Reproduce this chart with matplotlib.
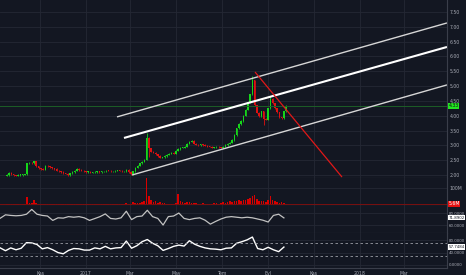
import numpy as np
import matplotlib
matplotlib.use('Agg')
import matplotlib.pyplot as plt

# x values are days counted from 2016-11-01
base = np.datetime64('2016-11-01')

tick_dates = ['2016-11-01', '2017-01-01', '2017-03-01', '2017-05-01', '2017-07-01',
              '2017-09-01', '2017-11-01', '2018-01-01', '2018-03-01']
tick_labels = ['Kas', '2017', 'Mar', 'May', 'Tem', 'Eyl', 'Kas', '2018', 'Mar']

candle_start = -44
candle_step = 3
closes = [2.00, 2.07, 2.03, 1.99, 1.98, 2.00, 2.00, 2.01, 2.03, 2.40,
          2.42, 2.40, 2.46, 2.30, 2.22, 2.20, 2.18, 2.32, 2.30, 2.26,
          2.22, 2.20, 2.15, 2.12, 2.10, 2.06, 2.04, 2.00, 2.06, 2.10,
          2.15, 2.20, 2.17, 2.14, 2.12, 2.10, 2.10, 2.08, 2.09, 2.10,
          2.11, 2.10, 2.12, 2.13, 2.15, 2.14, 2.12, 2.13, 2.14, 2.16,
          2.14, 2.12, 2.13, 2.18, 2.10, 2.02, 2.12, 2.25, 2.32, 2.40,
          2.45, 2.52, 3.25, 2.90, 2.78, 2.75, 2.70, 2.64, 2.58, 2.60,
          2.64, 2.68, 2.72, 2.74, 2.72, 2.82, 2.88, 2.92, 2.92, 2.96,
          3.05, 3.12, 3.15, 3.06, 3.02, 3.00, 3.03, 3.01, 2.99, 2.96,
          2.95, 2.92, 2.94, 2.96, 2.94, 2.92, 2.96, 3.01, 3.06, 3.09,
          3.18, 3.35, 3.58, 3.72, 3.82, 4.00, 4.20, 4.45, 4.72, 5.20,
          4.35, 4.10, 3.98, 4.15, 3.90, 3.86, 4.25, 4.58, 4.42, 4.25,
          4.12, 3.95, 3.92, 4.15, 4.33]
first_open = 1.98
wick_highs = {62: 3.42, 109: 5.35, 117: 4.66, 13: 2.47}
wick_lows = {114: 3.70, 63: 2.62}

volume = [3, 6, 2, 2, 3, 2, 2, 3, 5, 45, 12, 8, 28, 10, 6, 4, 4, 6, 4, 3,
          3, 3, 2, 2, 3, 2, 2, 3, 4, 3, 4, 5, 3, 2, 2, 2, 3, 2, 2, 3,
          2, 3, 2, 3, 4, 3, 2, 3, 3, 4, 3, 2, 3, 8, 5, 4, 14, 12, 10, 12,
          16, 20, 160, 55, 30, 18, 20, 12, 14, 10, 8, 7, 6, 6, 5, 8, 62, 25, 18, 12,
          14, 16, 10, 8, 10, 7, 6, 8, 5, 6, 5, 7, 10, 8, 6, 12, 14, 10, 18, 20,
          16, 22, 25, 28, 20, 30, 26, 35, 42, 55, 58, 35, 25, 22, 20, 18, 30, 52, 28, 20,
          14, 10, 16, 10, 6]
last_volume = 5.6

ind_start = -53
ind_step = 7
osc1 = [71.3, 77, 76, 75.4, 76, 78, 86, 78, 76, 75, 67.7, 72, 71.5, 74, 73, 74, 72,
        67.7, 70.8, 74, 78.5, 71, 70, 72, 83, 69, 74, 75, 84.6, 74, 71, 60, 74, 75,
        80, 71, 69, 71, 72, 68, 61.5, 66, 70, 73, 74, 73, 72, 73, 72, 70, 68, 65, 76,
        78, 71.8902]
osc2 = [55, 46, 55, 49, 54, 72, 71, 66, 52, 56, 49, 40, 36, 47, 53, 52, 48, 48, 55,
        52, 60, 52, 55, 56, 77, 54, 62, 75, 82, 70, 62, 47, 53, 60, 64, 61, 78, 67,
        60, 55, 52, 51, 49, 54, 55, 70, 75, 81, 90, 53, 49, 57, 49, 43, 57.7484]
osc2_bands = [70, 30]

# channel drawings: (day, price) endpoints
channel_upper = [(102.6, 3.96), (542.3, 7.13)]
channel_mid = [(111.9, 3.25), (542.3, 6.32)]
channel_lower = [(122.6, 2.00), (542.3, 5.04)]
trend_red = [(286.5, 5.475), (402.4, 1.93)]

price_ticks = [2.0, 2.5, 3.0, 3.5, 4.0, 4.5, 5.0, 5.5, 6.0, 6.5, 7.0, 7.5]

BG = '#131722'
GRID = '#242834'
SEP = '#3a3e4a'
TXT = '#a9acb6'
GREEN = '#16d61a'
RED = '#e01010'
FS = 3.3
FS_SMALL = 2.9

W, H = 466, 275
fig = plt.figure(figsize=(W / 100, H / 100), dpi=100, facecolor=BG)

def panel(top, bottom):
    ax = fig.add_axes([0, 1 - bottom / H, 447 / W, (bottom - top) / H], facecolor=BG)
    for s in ['top', 'left']:
        ax.spines[s].set_visible(False)
    for s in ['bottom', 'right']:
        ax.spines[s].set_color(SEP)
        ax.spines[s].set_linewidth(0.8)
    ax.yaxis.tick_right()
    ax.tick_params(axis='both', length=0, labelsize=FS, labelcolor=TXT, pad=2)
    ax.set_xlim(-53.3, 542.3)
    ax.set_xticks(tick_x)
    ax.set_xticklabels([])
    ax.grid(True, color=GRID, linewidth=0.6)
    ax.set_axisbelow(True)
    return ax

def value_box(a, y, text, fc, tc, fs=FS):
    a.text(1.003, y, text, transform=a.get_yaxis_transform(), fontsize=fs, color=tc,
           va='center', ha='left', bbox=dict(boxstyle='square,pad=0.15', fc=fc, ec='none'))

tick_x = (np.array(tick_dates, dtype='datetime64[D]') - base).astype(float)

ax = panel(0, 178)
axv = panel(178, 206)
ax1 = panel(206, 233)
ax2 = panel(233, 268)
for a in (ax1, ax2):
    a.tick_params(axis='y', labelsize=FS_SMALL, pad=1.5)

# price candles
xs = candle_start + candle_step * np.arange(len(closes))
opens = [first_open] + closes[:-1]
for i, (x, o, c) in enumerate(zip(xs, opens, closes)):
    col = GREEN if c >= o else RED
    hi = wick_highs.get(i, max(o, c) + 0.02)
    lo = wick_lows.get(i, min(o, c) - 0.02)
    ax.vlines(x, lo, hi, color=col, linewidth=0.6)
    ax.bar(x, max(abs(c - o), 0.02), bottom=min(o, c), width=2.0, color=col, linewidth=0)

ax.axhline(closes[-1], color='#1d5e27', linewidth=0.7)
for line, col, lw in [(channel_upper, '#d6d6d6', 1.0), (channel_mid, '#ffffff', 1.5),
                      (channel_lower, '#d6d6d6', 1.0), (trend_red, '#e01818', 0.9)]:
    ax.plot([p[0] for p in line], [p[1] for p in line], color=col, linewidth=lw,
            solid_capstyle='butt')
ax.set_ylim(2 - 3 / 29.64, 2 + 175 / 29.64)
ax.set_yticks(price_ticks)
ax.set_yticklabels(['%.2f' % t for t in price_ticks])
value_box(ax, closes[-1], '%.2f' % closes[-1], '#22e622', '#0b0b0b')

# volume
axv.bar(xs, volume, width=2.2, color='#d90000', linewidth=0)
axv.axhline(last_volume, color='#7a1010', linewidth=0.7)
axv.set_ylim(-8, 160)
axv.set_yticks([100])
axv.set_yticklabels(['100M'])
value_box(axv, last_volume, '%.1fM' % last_volume, '#e51010', 'white')

# oscillators
xi = ind_start + ind_step * np.arange(len(osc1))
ax1.plot(xi, osc1, color='#c2c2c2', linewidth=0.9)
ax1.set_ylim(46.7, 91.7)
ax1.set_yticks([60, 80])
ax1.set_yticklabels(['60.0000', '80.0000'])
value_box(ax1, osc1[-1], '%.4f' % osc1[-1], 'white', '#131722', FS_SMALL)

ax2.plot(xi, osc2, color='#ffffff', linewidth=1.0)
for b in osc2_bands:
    ax2.axhline(b, color='#9a9ca4', linewidth=0.6, linestyle=(0, (3, 3)))
ax2.set_ylim(-9.7, 103)
ax2.set_yticks([0, 40, 80])
ax2.set_yticklabels(['0.0000', '40.0000', '80.0000'])
value_box(ax2, osc2[-1], '%.4f' % osc2[-1], 'white', '#131722', FS_SMALL)
ax2.set_xticklabels(tick_labels)

fig.savefig('out.png', dpi=100, facecolor=BG)
